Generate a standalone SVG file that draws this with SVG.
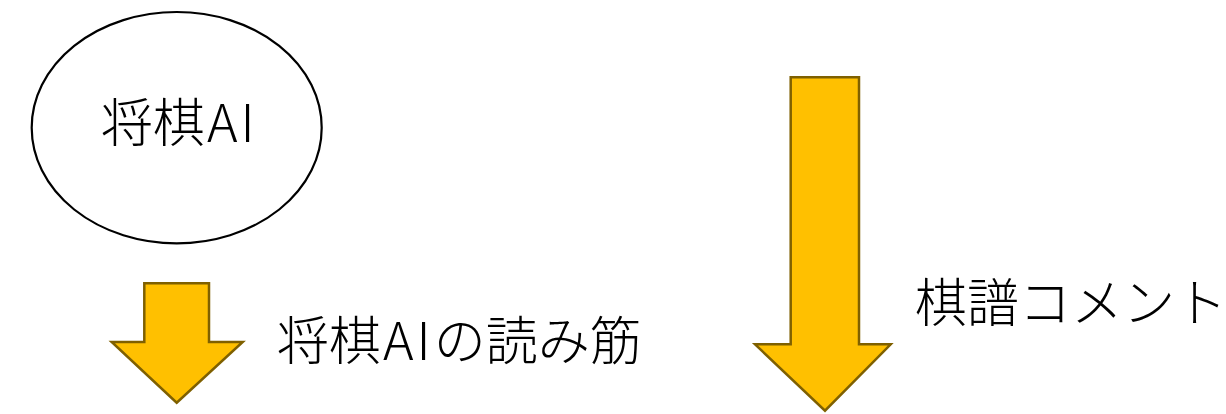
<svg xmlns="http://www.w3.org/2000/svg" width="1226" height="414" viewBox="0 0 1226 414">
<style>
.t{font-family:"Noto Sans CJK JP","Noto Sans",sans-serif;font-weight:300;font-size:52px;fill:#000}
.arr{fill:#FFC000;stroke:#7F6000;stroke-width:2.5;stroke-linejoin:miter}
</style>
<rect width="1226" height="414" fill="#fff"/>
<g id="node-ai">
<ellipse cx="176.7" cy="127.7" rx="145" ry="115.7" fill="#fff" stroke="#000" stroke-width="2.2"/>
<text class="t" x="101" y="142">将棋<tspan dx="2">A</tspan><tspan dx="3">I</tspan></text>
</g>
<g id="connectors">
<g id="arrow-ai">
<polygon class="arr" points="144.3,283.3 209,283.3 209,342 242.7,342 176.7,402.7 111.7,342 144.3,342"/>
</g>
<g id="arrow-kifu">
<polygon class="arr" points="790.7,77.3 859,77.3 859,344.3 890.7,344.3 825,410.7 755,344.3 790.7,344.3"/>
</g>
</g>
<g id="label-yomisuji">
<text class="t" x="277" y="360">将棋<tspan dx="2">A</tspan><tspan dx="3">I</tspan><tspan dx="3">の読み筋</tspan></text>
</g>
<g id="label-kifu">
<text class="t" x="915" y="322">棋譜コメント</text>
</g>
</svg>
